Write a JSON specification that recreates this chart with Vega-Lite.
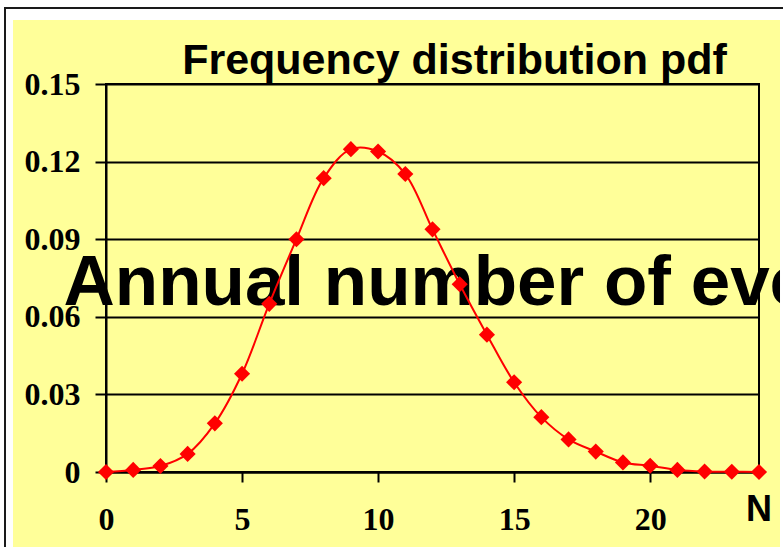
{
  "$schema": "https://vega.github.io/schema/vega-lite/v6.json",
  "width": 653,
  "height": 388,
  "autosize": {"type": "none"},
  "padding": {"left": 106, "top": 84, "right": 24, "bottom": 75},
  "background": "#FFFF99",
  "title": {
    "text": "Frequency distribution pdf",
    "font": "Liberation Sans",
    "fontWeight": "bold",
    "fontSize": 43,
    "color": "black",
    "anchor": "middle",
    "dx": 22,
    "baseline": "alphabetic",
    "offset": -117
  },
  "config": {
    "view": {"stroke": "black", "strokeWidth": 2, "fill": null}
  },
  "data": {
    "values": [
      {"N": 0, "pdf": 0},
      {"N": 1, "pdf": 0.0008},
      {"N": 2, "pdf": 0.0023},
      {"N": 3, "pdf": 0.007},
      {"N": 4, "pdf": 0.0188},
      {"N": 5, "pdf": 0.038},
      {"N": 6, "pdf": 0.065},
      {"N": 7, "pdf": 0.09},
      {"N": 8, "pdf": 0.1136},
      {"N": 9, "pdf": 0.1248},
      {"N": 10, "pdf": 0.1239},
      {"N": 11, "pdf": 0.1152},
      {"N": 12, "pdf": 0.0938},
      {"N": 13, "pdf": 0.0726},
      {"N": 14, "pdf": 0.0531},
      {"N": 15, "pdf": 0.0347},
      {"N": 16, "pdf": 0.0212},
      {"N": 17, "pdf": 0.0126},
      {"N": 18, "pdf": 0.0079},
      {"N": 19, "pdf": 0.0037},
      {"N": 20, "pdf": 0.0024},
      {"N": 21, "pdf": 0.0008},
      {"N": 22, "pdf": 0.0002},
      {"N": 23, "pdf": 0.0001},
      {"N": 24, "pdf": 0}
    ]
  },
  "layer": [
    {
      "data": {"values": [{}]},
      "mark": {"type": "rect", "color": "white"},
      "encoding": {
        "x": {"datum": -3.9, "type": "quantitative"},
        "x2": {"datum": 24.9},
        "y": {"datum": 0.17474, "type": "quantitative"},
        "y2": {"datum": 0.18248}
      }
    },
    {
      "data": {"values": [{}]},
      "mark": {"type": "rect", "color": "white"},
      "encoding": {
        "x": {"datum": -3.9, "type": "quantitative"},
        "x2": {"datum": -3.418},
        "y": {"datum": -0.029, "type": "quantitative"},
        "y2": {"datum": 0.18248}
      }
    },
    {
      "data": {"values": [{}]},
      "mark": {"type": "rect", "color": "white"},
      "encoding": {
        "x": {"datum": 24.772, "type": "quantitative"},
        "x2": {"datum": 24.9},
        "y": {"datum": -0.029, "type": "quantitative"},
        "y2": {"datum": 0.18248}
      }
    },
    {
      "data": {"values": [{}]},
      "mark": {"type": "rect", "fill": "transparent", "stroke": "#1a1a1a", "strokeWidth": 2},
      "encoding": {
        "x": {"datum": -3.712, "type": "quantitative"},
        "x2": {"datum": 25.5},
        "y": {"datum": -0.04, "type": "quantitative"},
        "y2": {"datum": 0.1794}
      }
    },
    {
      "mark": {"type": "line", "color": "#FF0000", "strokeWidth": 2, "interpolate": "catmull-rom"},
      "encoding": {
        "x": {
          "field": "N",
          "type": "quantitative",
          "scale": {"domain": [0, 24], "nice": false, "zero": false},
          "axis": {
            "values": [0, 5, 10, 15, 20],
            "grid": false,
            "tickSize": 10,
            "tickWidth": 2,
            "tickColor": "black",
            "domainColor": "black",
            "domainWidth": 2,
            "labelFont": "Liberation Serif",
            "labelFontWeight": "bold",
            "labelFontSize": 32,
            "labelColor": "black",
            "labelPadding": 22,
            "labelFlush": false,
            "labelOverlap": false,
            "title": "Annual number of events",
            "titleFont": "Liberation Sans",
            "titleFontWeight": "bold",
            "titleFontSize": 71,
            "titleColor": "black",
            "titleX": -43,
            "titleY": -168,
            "titleAlign": "left",
            "titleBaseline": "alphabetic"
          }
        },
        "y": {
          "field": "pdf",
          "type": "quantitative",
          "scale": {"domain": [0, 0.15], "nice": false},
          "axis": {
            "values": [0, 0.03, 0.06, 0.09, 0.12, 0.15],
            "format": ".2~f",
            "grid": true,
            "gridColor": "black",
            "gridWidth": 2,
            "gridOpacity": 1,
            "tickSize": 11,
            "tickWidth": 2,
            "tickColor": "black",
            "domainColor": "black",
            "domainWidth": 2,
            "labelFont": "Liberation Serif",
            "labelFontWeight": "bold",
            "labelFontSize": 32,
            "labelColor": "black",
            "labelPadding": 15,
            "labelOverlap": false,
            "title": null
          }
        }
      }
    },
    {
      "mark": {"type": "point", "shape": "diamond", "filled": true, "color": "#FF0000", "size": 260, "opacity": 1},
      "encoding": {
        "x": {"field": "N", "type": "quantitative"},
        "y": {"field": "pdf", "type": "quantitative"}
      }
    },
    {
      "data": {"values": [{"label": "N"}]},
      "mark": {"type": "text", "font": "Liberation Sans", "fontWeight": "bold", "fontSize": 36, "color": "black", "align": "center", "baseline": "alphabetic"},
      "encoding": {
        "x": {"datum": 24, "type": "quantitative"},
        "y": {"datum": -0.0189, "type": "quantitative"},
        "text": {"field": "label"}
      }
    }
  ]
}
